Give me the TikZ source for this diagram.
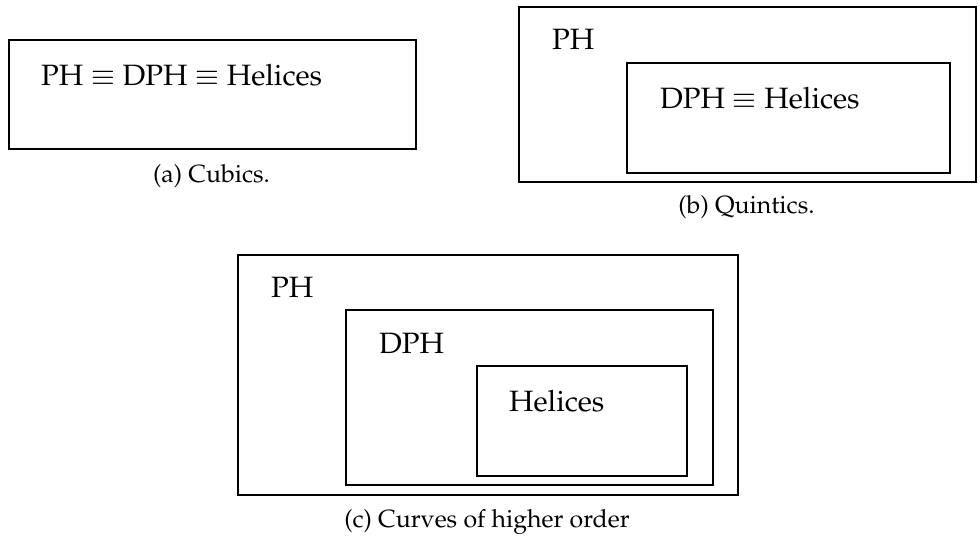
\documentclass[tikz,border=0pt]{standalone}
\usepackage[T1]{fontenc}
\usepackage{mathpazo}
\begin{document}
\begin{tikzpicture}[x=1pt,y=-1pt,
  box/.style={draw, line width=1.6pt, inner sep=0pt, anchor=north west},
  lbl/.style={inner sep=0pt, anchor=base west, font=\fontsize{29.4}{36}\selectfont},
  captext/.style={inner sep=0pt, anchor=base, font=\fontsize{24.9}{30}\selectfont}]
\useasboundingbox (0,0) rectangle (980,541);
% (a)
\node[box, minimum width=407pt, minimum height=109pt] (A) at (8,39) {};
\node[lbl] (Atext) at (41,85) {PH $\equiv$ DPH $\equiv$ Helices};
\node[captext] (Acap) at (211.5,182) {(a) Cubics.};
% (b)
\node[box, minimum width=457pt, minimum height=175pt] (B) at (518,6) {};
\node[lbl] (Bph) at (552,49) {PH};
\node[box, minimum width=323pt, minimum height=110pt] (B2) at (626,62) {};
\node[lbl] (Bdph) at (660,108) {DPH $\equiv$ Helices};
\node[captext] (Bcap) at (746.5,213) {(b) Quintics.};
% (c)
\node[box, minimum width=500pt, minimum height=240pt] (C) at (237,254) {};
\node[lbl] (Cph) at (271,297) {PH};
\node[box, minimum width=367pt, minimum height=175pt] (C2) at (345,309) {};
\node[lbl] (Cdph) at (379,353) {DPH};
\node[box, minimum width=210pt, minimum height=110pt] (C3) at (476,365) {};
\node[lbl] (Chel) at (509,411) {Helices};
\node[captext] (Ccap) at (487,527) {(c) Curves of higher order};
\end{tikzpicture}
\end{document}
